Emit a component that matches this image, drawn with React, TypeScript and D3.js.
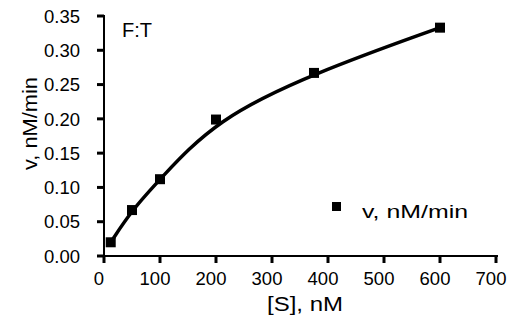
import React from 'react'
import { scaleLinear, line, curveBasis } from 'd3'

// substrate concentration (nM) and initial velocity (nM/min)
const substrate = [12, 50, 100, 200, 375, 600]
const velocity = [0.02, 0.067, 0.112, 0.199, 0.267, 0.333]

const xTicks = [0, 100, 200, 300, 400, 500, 600, 700]
const yTicks = [0, 0.05, 0.1, 0.15, 0.2, 0.25, 0.3, 0.35]

const panelLabel = 'F:T'
const seriesName = 'v, nM/min'
const xTitle = '[S], nM'
const yTitle = 'v, nM/min'

const W = 510
const H = 321
const font = 'Arial, "Liberation Sans", sans-serif'

const App = () => {
    const x = scaleLinear().domain([0, 700]).range([104, 496])
    const y = scaleLinear().domain([0, 0.35]).range([256, 16])

    const pts = substrate.map((s, i) => [x(s), y(velocity[i])] as [number, number])
    // smooth trend curve along the points
    const path = line().curve(curveBasis)(pts) || ''
    const m = 10

    return (
        <svg width={W} height={H} style={{ position: 'absolute', left: 0, top: 0, background: '#fff' }}>
            {/* y axis */}
            <line x1={104} x2={104} y1={y(0.35) - 1} y2={257} stroke='#000' strokeWidth={2} />
            {yTicks.map(t => (
                <g key={t}>
                    <line x1={97} x2={104} y1={y(t)} y2={y(t)} stroke='#000' strokeWidth={3} />
                    <text x={80} y={y(t)} dy='0.36em' textAnchor='end' fontFamily={font} fontSize={18.5}>
                        {t.toFixed(2)}
                    </text>
                </g>
            ))}
            {/* x axis */}
            <line x1={97} x2={498} y1={256} y2={256} stroke='#000' strokeWidth={2} />
            {xTicks.map(t => (
                <g key={t}>
                    <line x1={x(t)} x2={x(t)} y1={256} y2={263} stroke='#000' strokeWidth={3} />
                    <text x={x(t) - 5} y={285} textAnchor='middle' fontFamily={font} fontSize={18.5}>
                        {t}
                    </text>
                </g>
            ))}
            <text x={267} y={311} textLength={76} lengthAdjust='spacingAndGlyphs' fontFamily={font} fontSize={20}>{xTitle}</text>
            <text transform='translate(37,170) rotate(-90)' textLength={93} lengthAdjust='spacingAndGlyphs' fontFamily={font} fontSize={20}>{yTitle}</text>
            <text x={122} y={37} fontFamily={font} fontSize={20}>{panelLabel}</text>

            <path d={path} fill='none' stroke='#000' strokeWidth={3.5} />
            {pts.map(([px, py], i) => (
                <rect key={i} x={px - m / 2} y={py - m / 2} width={m} height={m} fill='#000' />
            ))}

            {/* legend */}
            <rect x={332} y={202} width={9} height={9} fill='#000' />
            <text x={362} y={218} textLength={106} lengthAdjust='spacingAndGlyphs' fontFamily={font} fontSize={19}>{seriesName}</text>
        </svg>
    )
}

export default App
